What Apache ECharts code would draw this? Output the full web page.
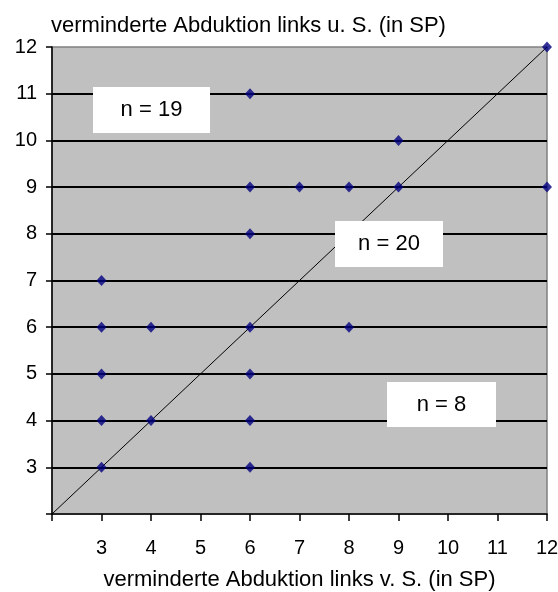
<!DOCTYPE html>
<html>
<head>
<meta charset="utf-8">
<script src="https://cdn.jsdelivr.net/npm/echarts@6/dist/echarts.min.js"></script>
<style>
  html, body { margin: 0; padding: 0; background: #fff; }
  #chart { width: 558px; height: 592px; }
</style>
</head>
<body>
<div id="chart"></div>
<script>
// Abduction scores (SP): before (x) vs. after (y)
const xValues = [12, 6, 9, 6, 7, 8, 9, 12, 6, 3, 3, 4, 6, 8, 3, 6, 3, 4, 6, 3, 6];
const yValues = [12, 11, 10, 9, 9, 9, 9, 9, 8, 7, 6, 6, 6, 6, 5, 5, 4, 4, 4, 3, 3];
// Reference diagonal y = x
const diagonal = [[2, 2], [12, 12]];
const axisMin = 2;
const axisMax = 12;
// Count annotations
const groupLabels = ['n = 19', 'n = 20', 'n = 8'];

const xTitle = 'verminderte Abduktion links v. S. (in SP)';
const yTitle = 'verminderte Abduktion links u. S. (in SP)';

const FONT = '"Liberation Sans", Arial, sans-serif';
const chart = echarts.init(document.getElementById('chart'), null, { renderer: 'canvas' });

const points = xValues.map((x, i) => [x, yValues[i]]);

const boxes = [
  { x: 93, y: 87, w: 117, h: 46 },
  { x: 335, y: 221, w: 108, h: 46 },
  { x: 387, y: 382, w: 109, h: 45 }
];

const graphics = [];
boxes.forEach((b, i) => {
  graphics.push({
    type: 'rect', z: 100,
    shape: { x: b.x, y: b.y, width: b.w, height: b.h },
    style: { fill: '#ffffff' }
  });
  graphics.push({
    type: 'text', z: 101,
    x: b.x + b.w / 2, y: b.y + b.h / 2,
    style: {
      text: groupLabels[i], fill: '#000', font: '22px ' + FONT,
      textAlign: 'center', textVerticalAlign: 'middle'
    }
  });
});

chart.setOption({
  animation: false,
  backgroundColor: '#ffffff',
  title: {
    text: yTitle,
    left: 46, top: 10,
    textStyle: { fontFamily: FONT, fontSize: 22, fontWeight: 'normal', color: '#000' }
  },
  grid: {
    left: 52, top: 47, right: 11, bottom: 78,
    outerBoundsMode: 'none',
    containLabel: false,
    show: true, backgroundColor: '#c0c0c0',
    borderColor: '#808080', borderWidth: 1.5
  },
  xAxis: {
    type: 'value', min: axisMin, max: axisMax, interval: 1,
    name: xTitle, nameLocation: 'middle', nameGap: 55,
    nameTextStyle: { fontFamily: FONT, fontSize: 22, color: '#000' },
    axisLine: { show: true, lineStyle: { color: '#000', width: 1.5 } },
    axisTick: { show: true, length: 7, lineStyle: { color: '#000', width: 1.5 } },
    axisLabel: {
      margin: 24, color: '#000', fontFamily: FONT, fontSize: 20,
      formatter: v => (v === axisMin ? '' : String(v))
    },
    splitLine: { show: false }
  },
  yAxis: {
    type: 'value', min: axisMin, max: axisMax, interval: 1,
    axisLine: { show: true, lineStyle: { color: '#000', width: 1.5 } },
    axisTick: { show: true, length: 6, lineStyle: { color: '#000', width: 1.5 } },
    axisLabel: {
      margin: 15, color: '#000', fontFamily: FONT, fontSize: 20,
      formatter: v => (v === axisMin ? '' : String(v))
    },
    splitLine: {
      show: true, showMinLine: false, showMaxLine: false,
      lineStyle: { color: '#000', width: 2 }
    }
  },
  series: [
    {
      type: 'line', data: diagonal, symbol: 'none', z: 2,
      lineStyle: { color: '#000', width: 1 }, silent: true
    },
    {
      type: 'scatter', data: points, symbol: 'diamond', symbolSize: [10, 11], z: 3,
      itemStyle: { color: '#000080' }
    }
  ],
  graphic: graphics
});
</script>
</body>
</html>
